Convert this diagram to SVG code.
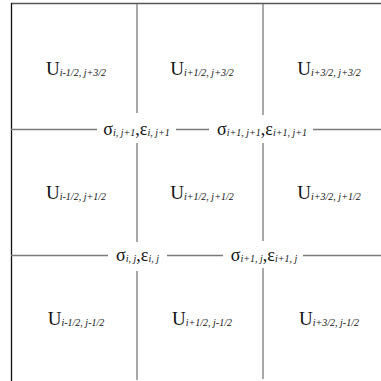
<svg xmlns="http://www.w3.org/2000/svg" width="381" height="381" viewBox="0 0 381 381">
<style>
.g{stroke:#7a7a7a;stroke-width:1.3;fill:none}
.b{stroke:#111;stroke-width:1.3;fill:none}
.t{stroke:#555;stroke-width:1.3;fill:none}
text{font-family:"Liberation Serif","Times New Roman",serif;fill:#111}
.u{font-size:19px;text-anchor:middle}
.s{font-size:10px;font-style:italic}
.sig{font-size:18px;text-anchor:middle}
</style>
<rect width="381" height="381" fill="#fff"/>
<g id="connectors">
<line class="t" x1="11" y1="3.5" x2="381" y2="3.5"/>
<line class="b" x1="11.5" y1="3" x2="11.5" y2="381"/>
<line class="g" x1="137" y1="4" x2="137" y2="113"/>
<line class="g" x1="137" y1="143" x2="137" y2="242"/>
<line class="g" x1="137" y1="271" x2="137" y2="380"/>
<line class="g" x1="263" y1="4" x2="263" y2="115"/>
<line class="g" x1="263" y1="143" x2="263" y2="241"/>
<line class="g" x1="263" y1="268" x2="263" y2="379"/>
<line class="g" x1="11" y1="129.5" x2="97" y2="129.5"/>
<line class="g" x1="176" y1="129.5" x2="209" y2="129.5"/>
<line class="g" x1="313" y1="129.5" x2="381" y2="129.5"/>
<line class="g" x1="11" y1="255.5" x2="108" y2="255.5"/>
<line class="g" x1="167" y1="255.5" x2="223" y2="255.5"/>
<line class="g" x1="303" y1="255.5" x2="381" y2="255.5"/>
</g>
<g id="u11"><text class="u" x="76" y="75">U<tspan class="s" dy="1">i-1/2, j+3/2</tspan></text></g>
<g id="u21"><text class="u" x="202" y="75">U<tspan class="s" dy="1">i+1/2, j+3/2</tspan></text></g>
<g id="u31"><text class="u" x="329" y="75">U<tspan class="s" dy="1">i+3/2, j+3/2</tspan></text></g>
<g id="u12"><text class="u" x="76" y="199">U<tspan class="s" dy="1">i-1/2, j+1/2</tspan></text></g>
<g id="u22"><text class="u" x="202" y="199">U<tspan class="s" dy="1">i+1/2, j+1/2</tspan></text></g>
<g id="u32"><text class="u" x="329" y="199">U<tspan class="s" dy="1">i+3/2, j+1/2</tspan></text></g>
<g id="u13"><text class="u" x="76" y="325">U<tspan class="s" dy="1">i-1/2, j-1/2</tspan></text></g>
<g id="u23"><text class="u" x="202" y="325">U<tspan class="s" dy="1">i+1/2, j-1/2</tspan></text></g>
<g id="u33"><text class="u" x="329" y="325">U<tspan class="s" dy="1">i+3/2, j-1/2</tspan></text></g>
<g id="s1"><text class="sig" x="136.5" y="135">σ<tspan class="s" dy="1">i, j+1</tspan><tspan dy="-1">,ε</tspan><tspan class="s" dy="1">i, j+1</tspan></text></g>
<g id="s2"><text class="sig" x="262" y="135">σ<tspan class="s" dy="1">i+1, j+1</tspan><tspan dy="-1">,ε</tspan><tspan class="s" dy="1">i+1, j+1</tspan></text></g>
<g id="s3"><text class="sig" x="137.5" y="261">σ<tspan class="s" dy="1">i, j</tspan><tspan dy="-1">,ε</tspan><tspan class="s" dy="1">i, j</tspan></text></g>
<g id="s4"><text class="sig" x="264" y="261">σ<tspan class="s" dy="1">i+1, j</tspan><tspan dy="-1">,ε</tspan><tspan class="s" dy="1">i+1, j</tspan></text></g>
</svg>
